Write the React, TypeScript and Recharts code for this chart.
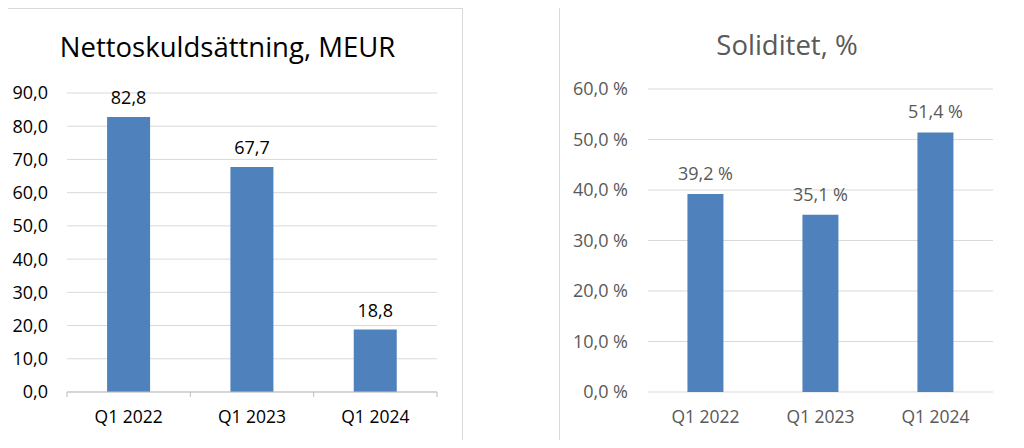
import React from 'react';
import { BarChart, Bar, XAxis, YAxis, CartesianGrid, LabelList } from 'recharts';

const categories = ['Q1 2022', 'Q1 2023', 'Q1 2024'];
const netDebt = [82.8, 67.7, 18.8];
const solidity = [39.2, 35.1, 51.4];
const netDebtTicks = [0, 10, 20, 30, 40, 50, 60, 70, 80, 90];
const solidityTicks = [0, 10, 20, 30, 40, 50, 60];
const leftTitle = 'Nettoskuldsättning, MEUR';
const rightTitle = 'Soliditet, %';

const leftData = categories.map((c, i) => ({ name: c, value: netDebt[i] }));
const rightData = categories.map((c, i) => ({ name: c, value: solidity[i] }));

const FONT = '"Open Sans", "Noto Sans", sans-serif';
const BAR = '#4f81bd';
const GRID = '#d9d9d9';
const AXIS = '#bfbfbf';

const fmt1 = (v: number) => v.toFixed(1).replace('.', ',');
const fmtPct = (v: number) => fmt1(v) + '\u00A0%';

const LeftTick = (props: any) => {
  const { x, y, payload, index, visibleTicksCount } = props;
  const off = payload && payload.offset != null ? payload.offset : 0;
  const axisY = y - 19;
  const count = visibleTicksCount || categories.length;
  return (
    <g>
      <line x1={x - off} x2={x - off} y1={axisY} y2={axisY + 5} stroke={AXIS} strokeWidth={1} />
      {index === count - 1 && (
        <line x1={x + off} x2={x + off} y1={axisY} y2={axisY + 5} stroke={AXIS} strokeWidth={1} />
      )}
      <text x={x} y={y} dy="0.71em" textAnchor="middle" fill="#000" fontSize={17.5} fontFamily={FONT}>
        {payload.value}
      </text>
    </g>
  );
};

export default function App() {
  return (
    <div style={{ position: 'relative', width: 1024, height: 448, margin: -8, overflow: 'hidden', background: '#fff', fontFamily: FONT }}>
      <div style={{ position: 'absolute', left: -1, top: 8, width: 462, height: 434, border: '1px solid #d9d9d9' }} />
      <div style={{ position: 'absolute', left: 559, top: 6, width: 459, height: 436, border: '1px solid #d9d9d9' }} />

      <div style={{ position: 'absolute', left: 0, top: 28, width: 455, textAlign: 'center', fontSize: 27.5, color: '#000', lineHeight: '38px', whiteSpace: 'nowrap' }}>
        {leftTitle}
      </div>
      <div style={{ position: 'absolute', left: 560, top: 26, width: 454, textAlign: 'center', fontSize: 27.5, color: '#595959', lineHeight: '38px', whiteSpace: 'nowrap' }}>
        {rightTitle}
      </div>

      <div style={{ position: 'absolute', left: 0, top: 0 }}>
        <BarChart width={470} height={448} data={leftData} margin={{ top: 93, right: 33, bottom: 26, left: 7 }} barCategoryGap="32.5%">
          <CartesianGrid vertical={false} stroke={GRID} />
          <XAxis
            dataKey="name"
            height={30}
            axisLine={{ stroke: AXIS }}
            tickLine={false}
            tickSize={0}
            tickMargin={19}
            tick={<LeftTick />}
            interval={0}
          />
          <YAxis
            width={60}
            domain={[0, 90]}
            ticks={netDebtTicks}
            tickFormatter={fmt1}
            axisLine={false}
            tickLine={false}
            tickSize={0}
            tickMargin={19}
            tick={{ fill: '#000', fontSize: 18, fontFamily: FONT }}
            interval={0}
          />
          <Bar dataKey="value" fill={BAR} isAnimationActive={false}>
            <LabelList dataKey="value" position="top" offset={13} formatter={(v: any) => fmt1(Number(v))} style={{ fill: '#000', fontSize: 18, fontFamily: FONT }} />
          </Bar>
        </BarChart>
      </div>

      <div style={{ position: 'absolute', left: 550, top: 0 }}>
        <BarChart width={474} height={448} data={rightData} margin={{ top: 89, right: 31, bottom: 26, left: 18 }} barCategoryGap="34.3%">
          <CartesianGrid vertical={false} stroke={GRID} />
          <XAxis
            dataKey="name"
            height={30}
            axisLine={false}
            tickLine={false}
            tickSize={0}
            tickMargin={19}
            tick={{ fill: '#595959', fontSize: 17.5, fontFamily: FONT }}
            interval={0}
          />
          <YAxis
            width={80}
            domain={[0, 60]}
            ticks={solidityTicks}
            tickFormatter={(v: number) => fmtPct(v)}
            axisLine={false}
            tickLine={false}
            tickSize={0}
            tickMargin={20}
            tick={{ fill: '#595959', fontSize: 18, fontFamily: FONT }}
            interval={0}
          />
          <Bar dataKey="value" fill={BAR} isAnimationActive={false}>
            <LabelList dataKey="value" position="top" offset={14} formatter={(v: any) => fmtPct(Number(v))} style={{ fill: '#595959', fontSize: 18, fontFamily: FONT }} />
          </Bar>
        </BarChart>
      </div>
    </div>
  );
}
